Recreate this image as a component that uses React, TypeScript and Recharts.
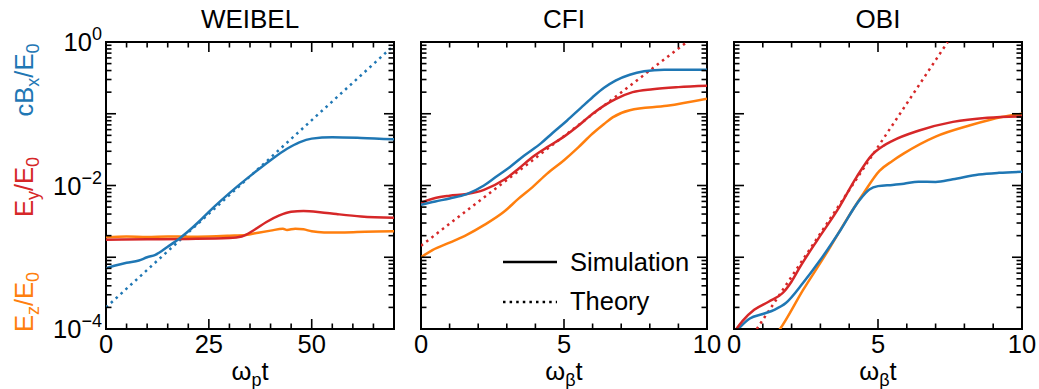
import { LineChart, Line, XAxis, YAxis, ReferenceArea, Legend } from "recharts";

type Pt = { t: number; v: number };
const pts = (rows: [number, number][]): Pt[] => rows.map(([t, v]) => ({ t, v }));

const BLUE = "#1f77b4";
const RED = "#d62728";
const ORANGE = "#ff7f0e";
const FONT = "'Liberation Sans', Arial, Helvetica, sans-serif";

// ---- WEIBEL (x in omega_p t) ----
const weibelBx = pts([
  [0, 7.0e-4], [2, 7.6e-4], [5, 8.4e-4], [8, 9.0e-4], [10, 1.0e-3], [12, 1.08e-3],
  [15, 1.4e-3], [18, 1.85e-3], [20, 2.3e-3], [22.5, 3.1e-3], [25, 4.3e-3], [28, 6.2e-3],
  [32, 9.8e-3], [36, 1.5e-2], [40, 2.25e-2], [44, 3.25e-2], [47, 4.0e-2], [50, 4.5e-2],
  [55, 4.7e-2], [62, 4.6e-2], [70, 4.4e-2],
]);
const weibelEy = pts([
  [0, 1.75e-3], [10, 1.78e-3], [20, 1.8e-3], [30, 1.85e-3], [33, 1.95e-3], [36, 2.4e-3],
  [39, 3.1e-3], [42, 3.8e-3], [45, 4.3e-3], [48, 4.4e-3], [52, 4.25e-3], [56, 4.0e-3],
  [62, 3.7e-3], [70, 3.55e-3],
]);
const weibelEz = pts([
  [0, 1.9e-3], [5, 1.95e-3], [10, 1.92e-3], [15, 1.95e-3], [20, 1.93e-3], [25, 1.95e-3],
  [30, 2.0e-3], [34, 2.05e-3], [37, 2.2e-3], [40, 2.35e-3], [43, 2.5e-3], [44, 2.4e-3],
  [46, 2.5e-3], [48, 2.45e-3], [50, 2.3e-3], [53, 2.22e-3], [58, 2.22e-3], [63, 2.27e-3],
  [70, 2.3e-3],
]);
const weibelTheory = pts([[0, 2.0e-4], [70, 0.9]]);

// ---- CFI (x in omega_beta t) ----
const cfiBx = pts([
  [0, 5.4e-3], [0.5, 6.0e-3], [1, 6.6e-3], [1.6, 7.6e-3], [2.2, 1.0e-2], [2.6, 1.3e-2],
  [3.1, 1.8e-2], [3.6, 2.6e-2], [4.2, 3.9e-2], [4.6, 5.4e-2], [5.1, 8.0e-2], [5.6, 0.122],
  [6.0, 0.17], [6.4, 0.23], [6.8, 0.29], [7.3, 0.35], [7.8, 0.39], [8.5, 0.41], [10, 0.41],
]);
const cfiEy = pts([
  [0, 5.75e-3], [0.5, 6.7e-3], [1.0, 7.2e-3], [1.6, 7.6e-3], [2.2, 8.7e-3], [2.9, 1.2e-2],
  [3.4, 1.7e-2], [3.9, 2.5e-2], [4.4, 3.4e-2], [5.0, 4.8e-2], [5.5, 6.8e-2], [6.0, 0.1],
  [6.4, 0.13], [6.8, 0.16], [7.4, 0.2], [8.1, 0.22], [9, 0.235], [10, 0.245],
]);
const cfiEz = pts([
  [0, 1.0e-3], [0.4, 1.26e-3], [1.0, 1.6e-3], [1.6, 2.05e-3], [2.2, 2.8e-3], [2.9, 4.3e-3],
  [3.4, 6.5e-3], [3.9, 9.5e-3], [4.4, 1.45e-2], [5.0, 2.25e-2], [5.5, 3.4e-2], [6.0, 5.3e-2],
  [6.4, 7.2e-2], [6.7, 8.9e-2], [7.3, 0.112], [8.6, 0.129], [10, 0.162],
]);
const cfiTheory = pts([[0, 1.45e-3], [9.3, 1.0]]);

// ---- OBI (x in omega_beta t) ----
const obiBx = pts([
  [0, 8.5e-5], [0.2, 1.05e-4], [0.55, 1.4e-4], [1.0, 1.62e-4], [1.4, 1.85e-4], [1.8, 2.3e-4],
  [2.4, 4.4e-4], [3.0, 9.2e-4], [3.7, 2.4e-3], [4.35, 6.2e-3], [4.7, 8.8e-3], [5.0, 9.8e-3],
  [5.5, 1.02e-2], [5.9, 1.06e-2], [6.4, 1.13e-2], [7.0, 1.12e-2], [7.6, 1.22e-2],
  [8.5, 1.42e-2], [9.2, 1.5e-2], [10, 1.55e-2],
]);
const obiEy = pts([
  [0, 9e-5], [0.3, 1.3e-4], [0.7, 1.85e-4], [1.2, 2.4e-4], [1.7, 3.2e-4], [2.0, 4.6e-4],
  [2.3, 7.4e-4], [2.9, 1.75e-3], [3.6, 4.6e-3], [4.25, 1.3e-2], [4.8, 2.7e-2], [5.2, 3.6e-2],
  [5.5, 4.2e-2], [6.4, 5.8e-2], [7.6, 7.7e-2], [8.8, 8.8e-2], [10, 9.2e-2],
]);
const obiEz = pts([
  [1.5, 8.8e-5], [1.6, 1.0e-4], [2.4, 3.5e-4], [3.2, 1.12e-3], [3.9, 3.3e-3], [4.5, 7.8e-3],
  [5.05, 1.6e-2], [5.5, 2.2e-2], [5.9, 2.8e-2], [7.0, 4.8e-2], [8.2, 6.9e-2], [9.3, 9.0e-2],
  [10, 0.1],
]);
const obiTheory = pts([[0.79, 1.0e-4], [7.42, 1.0]]);

// ---- ticks ----
const weibelXTicks = [0, 5, 10, 15, 20, 25, 30, 35, 40, 45, 50, 55, 60, 65, 70];
const weibelXLabels = [0, 25, 50];
const betaXTicks = [0, 1, 2, 3, 4, 5, 6, 7, 8, 9, 10];
const betaXLabels = [0, 5, 10];
const decades = [-4, -3, -2, -1];
const mantissas = [1, 2, 3, 4, 5, 6, 7, 8, 9];
const logTicks = decades.flatMap((d) => mantissas.map((m) => m * 10 ** d)).concat(1);
const logLabels = [-4, -2, 0];

const CHART_H = 389;
const MARGIN_TOP = 42;
const X_AXIS_H = 60;
const PLOT_H = CHART_H - MARGIN_TOP - X_AXIS_H;
const MAJOR_LEN = 10;
const MINOR_LEN = 5.5;
const TICK_W = 1.6;

function makeXTick(labels: number[]) {
  return (props: any) => {
    const { x, y, payload } = props;
    const major = labels.includes(payload.value);
    const len = major ? MAJOR_LEN : MINOR_LEN;
    return (
      <g>
        <line x1={x} x2={x} y1={y} y2={y - len} stroke="#000" strokeWidth={TICK_W} />
        <line x1={x} x2={x} y1={y - PLOT_H} y2={y - PLOT_H + len} stroke="#000" strokeWidth={TICK_W} />
        {major && (
          <text x={x} y={y + 24} textAnchor="middle" fontSize={25.5} fontFamily={FONT} fill="#000">
            {payload.value}
          </text>
        )}
      </g>
    );
  };
}

function makeYTick(plotW: number, showLabels: boolean) {
  return (props: any) => {
    const { x, y, payload } = props;
    const lg = Math.log10(payload.value);
    const exp = Math.round(lg);
    const major = Math.abs(lg - exp) < 1e-6;
    const len = major ? MAJOR_LEN : MINOR_LEN;
    const withLabel = showLabels && major && logLabels.includes(exp);
    return (
      <g>
        <line x1={x} x2={x + len} y1={y} y2={y} stroke="#000" strokeWidth={TICK_W} />
        <line x1={x + plotW} x2={x + plotW - len} y1={y} y2={y} stroke="#000" strokeWidth={TICK_W} />
        {withLabel && (
          <text x={x - 4} y={y + 9} textAnchor="end" fontSize={25.5} fontFamily={FONT} fill="#000">
            10
            <tspan dy={-11} fontSize={18}>
              {exp === 0 ? "0" : `\u2212${-exp}`}
            </tspan>
          </text>
        )}
      </g>
    );
  };
}

const legendContent = () => (
  <svg width={220} height={80} style={{ display: "block" }}>
    <line x1={3} x2={57} y1={20} y2={20} stroke="#000" strokeWidth={2.5} />
    <text x={70} y={29} fontSize={25.5} fontFamily={FONT} fill="#000">
      Simulation
    </text>
    <line x1={3} x2={57} y1={60} y2={60} stroke="#000" strokeWidth={2.5} strokeDasharray="2.5 4.1" />
    <text x={70} y={68} fontSize={25.5} fontFamily={FONT} fill="#000">
      Theory
    </text>
  </svg>
);

interface Curve {
  data: Pt[];
  color: string;
  dotted?: boolean;
}

interface PanelProps {
  left: number;
  width: number;
  yAxisWidth: number;
  marginRight: number;
  xMax: number;
  xTicks: number[];
  xLabels: number[];
  showYLabels: boolean;
  curves: Curve[];
  legend?: boolean;
}

function Panel(p: PanelProps) {
  const plotW = p.width - p.yAxisWidth - p.marginRight;
  return (
    <div style={{ position: "absolute", left: p.left, top: 0 }}>
      <LineChart
        width={p.width}
        height={CHART_H}
        margin={{ top: MARGIN_TOP, right: p.marginRight, bottom: 0, left: 0 }}
      >
        <XAxis
          dataKey="t"
          type="number"
          domain={[0, p.xMax]}
          allowDataOverflow
          ticks={p.xTicks}
          interval={0}
          height={X_AXIS_H}
          axisLine={false}
          tickLine={false}
          tickSize={0}
          tickMargin={0}
          tick={makeXTick(p.xLabels)}
        />
        <YAxis
          type="number"
          scale="log"
          domain={[1e-4, 1]}
          allowDataOverflow
          ticks={logTicks}
          interval={0}
          width={p.yAxisWidth}
          axisLine={false}
          tickLine={false}
          tickSize={0}
          tickMargin={0}
          tick={makeYTick(plotW, p.showYLabels)}
        />
        {p.curves.map((c, i) => (
          <Line
            key={i}
            data={c.data}
            dataKey="v"
            type="monotone"
            stroke={c.color}
            strokeWidth={2.5}
            strokeDasharray={c.dotted ? "2.5 4.1" : undefined}
            dot={false}
            activeDot={false}
            isAnimationActive={false}
          />
        ))}
        <ReferenceArea x1={0} x2={p.xMax} y1={1e-4} y2={1} fill="none" stroke="#000" strokeWidth={2} />
        {p.legend && (
          <Legend
            layout="vertical"
            verticalAlign="middle"
            align="center"
            content={legendContent}
            wrapperStyle={{ left: 90, top: 242, width: 220, height: 80 }}
          />
        )}
      </LineChart>
    </div>
  );
}

function Sub({ children }: { children: string }) {
  return (
    <tspan fontSize={18} dy={6}>
      {children}
    </tspan>
  );
}

export default function App() {
  return (
    <div
      style={{
        position: "absolute",
        left: 0,
        top: 0,
        width: 1039,
        height: 389,
        background: "#fff",
        fontFamily: FONT,
      }}
    >
      <Panel
        left={0}
        width={420}
        yAxisWidth={106}
        marginRight={26}
        xMax={70}
        xTicks={weibelXTicks}
        xLabels={weibelXLabels}
        showYLabels
        curves={[
          { data: weibelTheory, color: BLUE, dotted: true },
          { data: weibelEz, color: ORANGE },
          { data: weibelEy, color: RED },
          { data: weibelBx, color: BLUE },
        ]}
      />
      <Panel
        left={410}
        width={320}
        yAxisWidth={11}
        marginRight={23}
        xMax={10}
        xTicks={betaXTicks}
        xLabels={betaXLabels}
        showYLabels={false}
        legend
        curves={[
          { data: cfiTheory, color: RED, dotted: true },
          { data: cfiEz, color: ORANGE },
          { data: cfiEy, color: RED },
          { data: cfiBx, color: BLUE },
        ]}
      />
      <Panel
        left={724}
        width={315}
        yAxisWidth={10}
        marginRight={17}
        xMax={10}
        xTicks={betaXTicks}
        xLabels={betaXLabels}
        showYLabels={false}
        curves={[
          { data: obiTheory, color: RED, dotted: true },
          { data: obiEz, color: ORANGE },
          { data: obiBx, color: BLUE },
          { data: obiEy, color: RED },
        ]}
      />
      <svg
        width={1039}
        height={389}
        style={{ position: "absolute", left: 0, top: 0, pointerEvents: "none" }}
        fontFamily={FONT}
      >
        <g fontSize={26} textAnchor="middle" fill="#000">
          <text x={250} y={28}>WEIBEL</text>
          <text x={564} y={28}>CFI</text>
          <text x={878} y={28}>OBI</text>
        </g>
        <g fontSize={25.5} textAnchor="middle" fill="#000">
          <text x={250} y={380}>
            ω<Sub>p</Sub>
            <tspan dy={-6}>t</tspan>
          </text>
          <text x={564} y={380}>
            ω<Sub>β</Sub>
            <tspan dy={-6}>t</tspan>
          </text>
          <text x={878} y={380}>
            ω<Sub>β</Sub>
            <tspan dy={-6}>t</tspan>
          </text>
        </g>
        <g fontSize={25.5} textAnchor="middle">
          <text x={33} y={80} transform="rotate(-90 33 80)" fill={BLUE}>
            cB<Sub>x</Sub>
            <tspan dy={-6}>/E</tspan>
            <Sub>0</Sub>
          </text>
          <text x={33} y={187} transform="rotate(-90 33 187)" fill={RED}>
            E<Sub>y</Sub>
            <tspan dy={-6}>/E</tspan>
            <Sub>0</Sub>
          </text>
          <text x={33} y={302} transform="rotate(-90 33 302)" fill={ORANGE}>
            E<Sub>z</Sub>
            <tspan dy={-6}>/E</tspan>
            <Sub>0</Sub>
          </text>
        </g>
      </svg>
    </div>
  );
}
